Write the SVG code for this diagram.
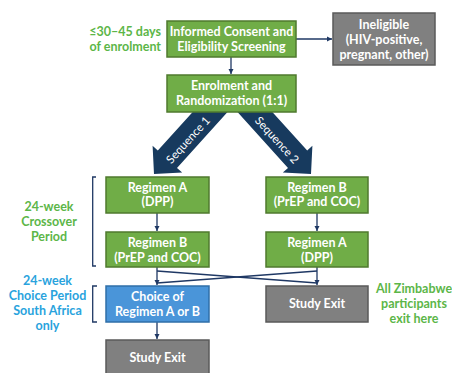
<svg xmlns="http://www.w3.org/2000/svg" width="452" height="373" viewBox="0 0 452 373">
<style>
.g{fill:#70AD47;stroke:#4F7A2E;stroke-width:1.5}
.gr{fill:#808080;stroke:#5A5A5A;stroke-width:1.5}
.bl{fill:#4A95D9;stroke:#2F6FA8;stroke-width:1.5}
.t{font-family:Lato,"Noto Sans",sans-serif;font-weight:bold;font-size:12.5px;fill:#fff;text-anchor:middle}
.lg{font-family:Lato,"Noto Sans",sans-serif;font-weight:bold;font-size:12.5px;fill:#5CB648;text-anchor:middle}
.lb{font-family:Lato,"Noto Sans",sans-serif;font-weight:bold;font-size:12.5px;fill:#29A3DD;text-anchor:middle}
.c{fill:none;stroke:#1F3864;stroke-width:1.3}
.big{fill:#173A5E}
.st{font-family:Lato,"Noto Sans",sans-serif;font-size:11.5px;fill:#fff;text-anchor:middle}
</style>
<defs>
<marker id="ah" markerWidth="6" markerHeight="6" refX="5" refY="3" orient="auto" markerUnits="userSpaceOnUse">
<path d="M0,0.5 L5,3 L0,5.5 Z" fill="#1F3864"/>
</marker>
</defs>

<g id="seq1">
<polygon class="big" points="211.5,91.2 157.8,150.5 152.6,145.8 154,174 182.2,172.6 177,167.9 230.7,108.6"/>
<text class="st" transform="translate(188,140) rotate(-47.8)" dy="4">Sequence 1</text>
</g>
<g id="seq2">
<polygon class="big" points="253.5,91.2 307.2,150.5 312.4,145.8 311,174 282.8,172.6 288,167.9 234.3,108.6"/>
<text class="st" transform="translate(277,140) rotate(47.8)" dy="4">Sequence 2</text>
</g>

<g id="connectors">
<path class="c" d="M296,39 L332,39" marker-end="url(#ah)"/>
<path class="c" d="M231,57 L231,74" marker-end="url(#ah)"/>
<path class="c" d="M157,213 L157,231" marker-end="url(#ah)"/>
<path class="c" d="M317,213 L317,231" marker-end="url(#ah)"/>
<path class="c" d="M157,267 L157,285" marker-end="url(#ah)"/>
<path class="c" d="M317,267 L317,285" marker-end="url(#ah)"/>
<path class="c" d="M157,271 L317,283"/>
<path class="c" d="M317,271 L157,283"/>
<path class="c" d="M157,322 L157,339" marker-end="url(#ah)"/>
<path class="c" d="M96,177 L92.7,177 L92.7,266 L96,266"/>
<path class="c" d="M97,286 L92.7,286 L92.7,322 L97,322"/>
</g>

<g id="screening">
<rect class="g" x="167" y="21" width="129" height="36"/>
<text class="t" x="231.5" y="36">Informed Consent and</text>
<text class="t" x="231.5" y="50.5">Eligibility Screening</text>
</g>
<g id="ineligible">
<rect class="gr" x="333" y="13" width="102" height="52"/>
<text class="t" x="384" y="29">Ineligible</text>
<text class="t" x="384" y="44">(HIV-positive,</text>
<text class="t" x="384" y="59">pregnant, other)</text>
</g>
<g id="enrolment">
<rect class="g" x="167" y="75" width="129" height="37"/>
<text class="t" x="231.5" y="90">Enrolment and</text>
<text class="t" x="231.5" y="104.5">Randomization (1:1)</text>
</g>
<g id="seq1-regA">
<rect class="g" x="106" y="177" width="103" height="36"/>
<text class="t" x="157.5" y="191.5">Regimen A</text>
<text class="t" x="157.5" y="206">(DPP)</text>
</g>
<g id="seq2-regB">
<rect class="g" x="266" y="177" width="102" height="36"/>
<text class="t" x="317" y="191.5">Regimen B</text>
<text class="t" x="317" y="206">(PrEP and COC)</text>
</g>
<g id="seq1-regB">
<rect class="g" x="106" y="232" width="103" height="35"/>
<text class="t" x="157.5" y="246.5">Regimen B</text>
<text class="t" x="157.5" y="261.5">(PrEP and COC)</text>
</g>
<g id="seq2-regA">
<rect class="g" x="266" y="232" width="102" height="35"/>
<text class="t" x="317" y="246.5">Regimen A</text>
<text class="t" x="317" y="261.5">(DPP)</text>
</g>
<g id="choice">
<rect class="bl" x="106" y="286" width="103" height="36"/>
<text class="t" x="157.5" y="300.5">Choice of</text>
<text class="t" x="157.5" y="315.5">Regimen A or B</text>
</g>
<g id="exit-right">
<rect class="gr" x="266" y="286" width="102" height="36"/>
<text class="t" x="317" y="308">Study Exit</text>
</g>
<g id="exit-bottom">
<rect class="gr" x="106" y="340" width="103" height="38"/>
<text class="t" x="157.5" y="362">Study Exit</text>
</g>

<g id="labels">
<text class="lg" x="161" y="36" style="text-anchor:end">≤30–45 days</text>
<text class="lg" x="161" y="50.5" style="text-anchor:end">of enrolment</text>
<text class="lg" x="49" y="210.5">24-week</text>
<text class="lg" x="49" y="225.5">Crossover</text>
<text class="lg" x="49" y="240.5">Period</text>
<text class="lb" x="47.5" y="285">24-week</text>
<text class="lb" x="47.5" y="300">Choice Period</text>
<text class="lb" x="47.5" y="315">South Africa</text>
<text class="lb" x="47.5" y="330">only</text>
<text class="lg" x="414" y="292.5">All Zimbabwe</text>
<text class="lg" x="414" y="307.5">participants</text>
<text class="lg" x="414" y="322.5">exit here</text>
</g>
</svg>
